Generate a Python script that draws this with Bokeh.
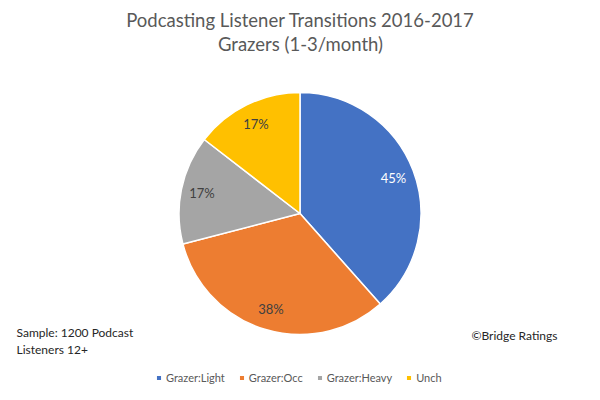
import math
from bokeh.plotting import figure
from bokeh.models import ColumnDataSource, Range1d, Legend, LegendItem
from bokeh.core.properties import value
from bokeh.embed import file_html
from bokeh.resources import INLINE

# ---- data ----
categories = ["Grazer:Light", "Grazer:Occ", "Grazer:Heavy", "Unch"]
values = [45, 38, 17, 17]
labels = ["45%", "38%", "17%", "17%"]
colors = ["#4472C4", "#ED7D31", "#A5A5A5", "#FFC000"]
label_colors = ["#FFFFFF", "#404040", "#404040", "#404040"]
title_lines = ["Podcasting Listener Transitions 2016-2017", "Grazers (1-3/month)"]
note_lines = ["Sample: 1200 Podcast", "Listeners 12+"]
credit = "\u00a9Bridge Ratings"

W, H = 584, 384
FONT = "Lato"

def fx(sx):
    return sx

def fy(sy):
    return H - sy

p = figure(width=W, height=H, output_backend="svg", toolbar_location=None,
           x_range=Range1d(0, W), y_range=Range1d(0, H),
           min_border=0, min_border_left=0, min_border_right=0,
           min_border_top=0, min_border_bottom=0)
p.axis.visible = False
p.grid.visible = False
p.outline_line_color = None
p.background_fill_color = "white"
p.border_fill_color = "white"

# pie geometry
cx, cy, R = fx(299.5), fy(213), 121
total = float(sum(values))
starts, ends, mids = [], [], []
a = math.pi / 2
for v in values:
    sweep = v / total * 2 * math.pi
    starts.append(a)
    ends.append(a - sweep)
    mids.append(a - sweep / 2)
    a -= sweep

src = ColumnDataSource(dict(x=[cx] * 4, y=[cy] * 4, start=starts, end=ends,
                            color=colors, cat=categories))
wr = p.wedge(x="x", y="y", radius=R, radius_units="screen", start_angle="start", end_angle="end",
             direction="clock", fill_color="color", line_color="white", line_width=1.5, source=src)

lr = 100
lsrc = ColumnDataSource(dict(
    x=[cx + lr * math.cos(m) for m in mids],
    y=[cy + lr * math.sin(m) for m in mids],
    t=labels, c=label_colors))
p.text(x="x", y="y", text="t", text_color="c", source=lsrc, text_align="center",
       text_baseline="middle", text_font=value(FONT), text_font_size="13px")

# title
p.text(x=[fx(300), fx(300)], y=[fy(19.5), fy(43)], text=title_lines, text_align="center",
       text_baseline="middle", text_color="#595959", text_font=value(FONT),
       text_font_size="18.5px")

# notes
p.text(x=[fx(16), fx(16)], y=[fy(331.5), fy(349)], text=note_lines, text_align="left",
       text_baseline="middle", text_color="#262626", text_font=value(FONT),
       text_font_size="12px")
p.text(x=[fx(471)], y=[fy(334.5)], text=[credit], text_align="left",
       text_baseline="middle", text_color="#262626", text_font=value(FONT),
       text_font_size="12px")

# legend
items = [LegendItem(label=cat, renderers=[wr], index=i) for i, cat in enumerate(categories)]
legend = Legend(items=items, orientation="horizontal", location=(fx(155), fy(384)),
                glyph_width=7, glyph_height=7, label_standoff=4, spacing=13,
                label_text_font=FONT, label_text_font_size="11px",
                label_text_color="#595959", border_line_color=None,
                background_fill_alpha=0, padding=0, margin=0,
                label_height=11)
p.add_layout(legend, "center")

open("out.html", "w").write(file_html(p, INLINE))
